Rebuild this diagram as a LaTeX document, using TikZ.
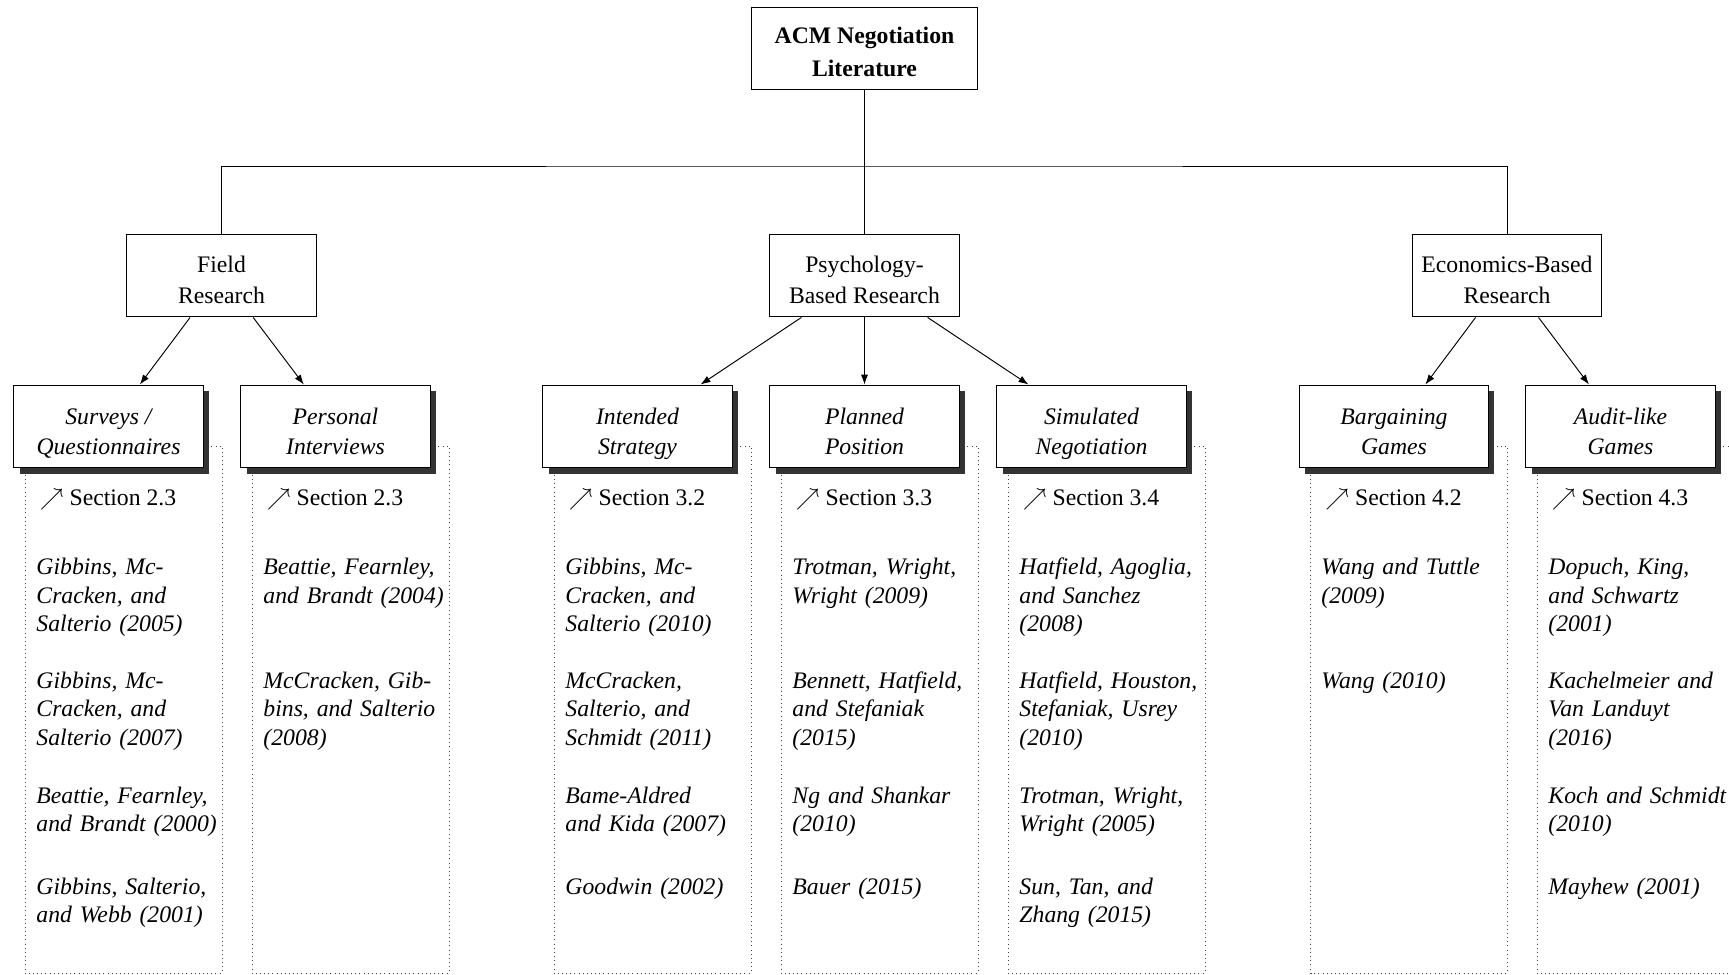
\documentclass[tikz,border=0pt]{standalone}
\usepackage{fontspec}
\setmainfont{Liberation Serif}
\usetikzlibrary{arrows.meta,shadows}

% fixed height of the first line and depth of the last line inside the boxes
\newcommand\firstline{\rule{0pt}{10.7pt}}
\newcommand\firstlineroot{\rule{0pt}{9.6pt}}
\newcommand\topicfirst{\rule{0pt}{12.9pt}}
\newcommand\topiclast{\rule[-2.2pt]{0pt}{2.2pt}}

\begin{document}
\begin{tikzpicture}[x=0.422pt,y=-0.422pt,
  box/.style={draw, fill=white, line width=0.4pt, align=center, inner sep=0pt,
    minimum width=79.8pt, minimum height=35pt, font=\fontsize{10}{12.8}\selectfont},
  rootbox/.style={box, minimum width=95.6pt, font=\fontsize{10}{14}\selectfont\bfseries},
  topicbox/.style={box, font=\fontsize{10}{12.8}\selectfont\itshape,
    drop shadow={shadow xshift=2.5pt, shadow yshift=-2.5pt, fill=black!80, opacity=1}},
  frame/.style={draw=black!75, dash pattern=on 0.4pt off 1.35pt, line width=0.4pt},
  sect/.style={anchor=base west, inner sep=0pt, font=\fontsize{10}{12}\selectfont},
  cite/.style={anchor=base west, inner sep=0pt, text width=90pt, align=left,
    font=\fontsize{10}{12.1}\selectfont\itshape},
  link/.style={-{Latex[length=4.2pt,width=3pt]}, line width=0.4pt}
]
\clip (0,0) rectangle (1729,975);
\useasboundingbox (0,0) rectangle (1729,975);

% --- top of the tree
\node[rootbox] (root) at (864.5,48.5) {\firstlineroot ACM Negotiation\\Literature};

\node[box] (field) at (221.5,275.5) {\firstline Field\\Research};
\node[box] (psych) at (864.5,275.5) {\firstline Psychology-\\Based Research};
\node[box] (econ)  at (1507,275.5)  {\firstline Economics-Based\\Research};

\coordinate (bus) at (864.5,166);
\draw (root) -- (psych);
\draw (field.north) |- (bus) -| (econ.north);

% --- dotted frames and section references of the leaf topics
\foreach \n/\cx/\sec in {sv/108.5/2.3, pi/335.5/2.3, is/637.5/3.2, pp/864.5/3.3,
                         sn/1091.5/3.4, bg/1394/4.2, ag/1620.5/4.3}{
  \draw[frame] (\cx-83.5,446) rectangle (\cx+113.5,973);
  \node[sect] (\n-sec) at (\cx-69,505) {$\nearrow$ Section \sec};
}

% --- leaf topics
\node[topicbox] (sv) at (108.5,426.5)  {\topicfirst Surveys /\\Questionnaires\topiclast};
\node[topicbox] (pi) at (335.5,426.5)  {\topicfirst Personal\\Interviews\topiclast};
\node[topicbox] (is) at (637.5,426.5)  {\topicfirst Intended\\Strategy\topiclast};
\node[topicbox] (pp) at (864.5,426.5)  {\topicfirst Planned\\Position\topiclast};
\node[topicbox] (sn) at (1091.5,426.5) {\topicfirst Simulated\\Negotiation\topiclast};
\node[topicbox] (bg) at (1394,426.5)   {\topicfirst Bargaining\\Games\topiclast};
\node[topicbox] (ag) at (1620.5,426.5) {\topicfirst Audit-like\\Games\topiclast};

\draw[link] (field) -- (sv);
\draw[link] (field) -- (pi);
\draw[link] (psych) -- (is);
\draw[link] (psych) -- (pp);
\draw[link] (psych) -- (sn);
\draw[link] (econ) -- (bg);
\draw[link] (econ) -- (ag);

% --- references
\node[cite] (sv-1) at (36,574.5) {Gibbins, Mc-\\Cracken, and\\Salterio (2005)};
\node[cite] (sv-2) at (36,688) {Gibbins, Mc-\\Cracken, and\\Salterio (2007)};
\node[cite] (sv-3) at (36,803) {Beattie, Fearnley,\\and Brandt (2000)};
\node[cite] (sv-4) at (36,894) {Gibbins, Salterio,\\and Webb (2001)};

\node[cite] (pi-1) at (263,574.5) {Beattie, Fearnley,\\and Brandt (2004)};
\node[cite] (pi-2) at (263,688) {McCracken, Gib-\\bins, and Salterio\\(2008)};

\node[cite] (is-1) at (565,574.5) {Gibbins, Mc-\\Cracken, and\\Salterio (2010)};
\node[cite] (is-2) at (565,688) {McCracken,\\Salterio, and\\Schmidt (2011)};
\node[cite] (is-3) at (565,803) {Bame-Aldred\\and Kida (2007)};
\node[cite] (is-4) at (565,894) {Goodwin (2002)};

\node[cite] (pp-1) at (792,574.5) {Trotman, Wright,\\Wright (2009)};
\node[cite] (pp-2) at (792,688) {Bennett, Hatfield,\\and Stefaniak\\(2015)};
\node[cite] (pp-3) at (792,803) {Ng and Shankar\\(2010)};
\node[cite] (pp-4) at (792,894) {Bauer (2015)};

\node[cite] (sn-1) at (1019,574.5) {Hatfield, Agoglia,\\and Sanchez\\(2008)};
\node[cite] (sn-2) at (1019,688) {Hatfield, Houston,\\Stefaniak, Usrey\\(2010)};
\node[cite] (sn-3) at (1019,803) {Trotman, Wright,\\Wright (2005)};
\node[cite] (sn-4) at (1019,894) {Sun, Tan, and\\Zhang (2015)};

\node[cite] (bg-1) at (1321,574.5) {Wang and Tuttle\\(2009)};
\node[cite] (bg-2) at (1321,688) {Wang (2010)};

\node[cite] (ag-1) at (1548,574.5) {Dopuch, King,\\and Schwartz\\(2001)};
\node[cite] (ag-2) at (1548,688) {Kachelmeier and\\Van Landuyt\\(2016)};
\node[cite] (ag-3) at (1548,803) {Koch and Schmidt\\(2010)};
\node[cite] (ag-4) at (1548,894) {Mayhew (2001)};
\end{tikzpicture}
\end{document}
